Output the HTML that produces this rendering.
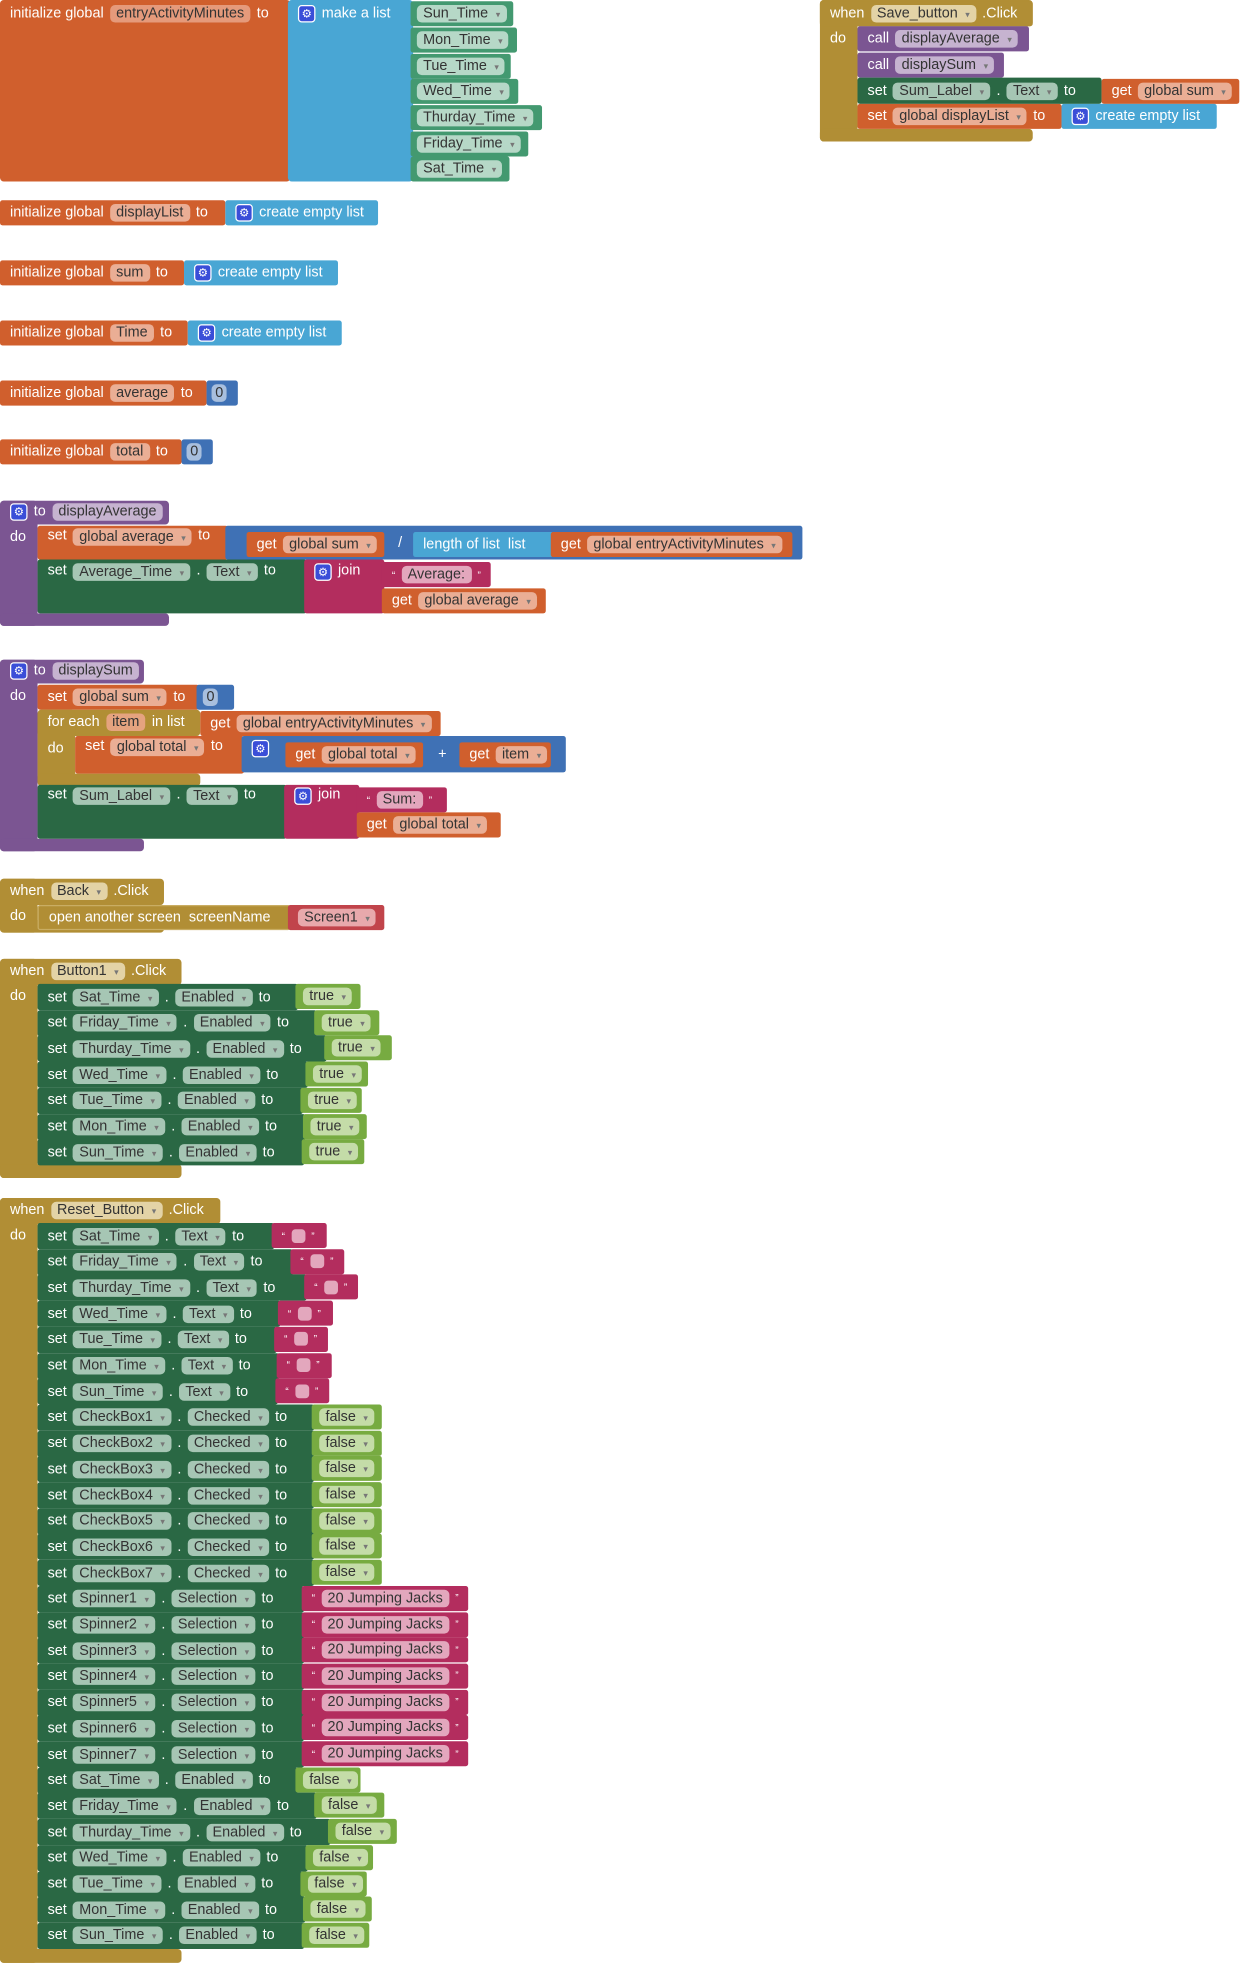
<!DOCTYPE html>
<html><head><meta charset="utf-8"><style>
html,body{margin:0;padding:0;background:#fff;width:1243px;height:1967px;overflow:hidden}
#w{position:absolute;left:0;top:0;width:993px;height:1572px;transform:scale(1.2518);transform-origin:0 0}
.b{position:absolute;height:20px;display:flex;align-items:center;padding-left:8px;gap:5px;color:#fff;font:11.5px "Liberation Sans",sans-serif;white-space:nowrap;box-sizing:border-box;border-radius:2px}
.a{position:absolute;box-sizing:border-box;border-radius:3px}
.p{background:rgba(255,255,255,.55);color:#333;border-radius:4px;padding:0 5px;height:14px;line-height:14px;font-size:11.5px}
.o{background:#d05f2d}.o .p{background:#eaae95}
.bl{background:#49a6d4}.m{background:#3f71b5}
.g{background:#2a6844}.g .p{background:#a6c6b4}
.cg{background:#439970}.cg .p{background:#b6d8c7}
.gd{background:#b18e35}.gd .p{background:#e3d3a6}
.pu{background:#7b5592}.pu .p{background:#c6b3d0}
.mg{background:#b32d5e}.mg .p{background:#e3a7bd}
.lg{background:#77ab41}.lg .p{background:#c4dca8}
.rd{background:#c1444b}.rd .p{background:#e8a9ac}
.ic{display:inline-block;width:12px;height:12px;background:#3a4ed8;border:1px solid #fff;border-radius:3px;color:#fff;font-size:9px;line-height:12px;text-align:center}
.v{font-size:7px;color:#777;margin-left:6px}
.sq{display:inline-block;width:11px;height:11px;background:#e3a7bd;border-radius:3px}
.q{font-size:8px}
</style></head><body><div id="w">

<!-- entryActivityMinutes -->
<div class="a o" style="left:0;top:0;width:232px;height:145px"></div>
<div class="b" style="left:0;top:1px;width:232px">initialize global <span class="p" style="background:#e59a7b">entryActivityMinutes</span> to</div>
<div class="a bl" style="left:230px;top:0;width:100px;height:145px"></div>
<div class="b" style="left:230px;top:1px"><span class="ic">⚙</span> make a list</div>
<div class="b cg" style="left:328px;top:1px;width:82px;padding-left:5px"><span class="p">Sun_Time<span class="v">▾</span></span></div>
<div class="b cg" style="left:328px;top:22px;width:85px;padding-left:5px"><span class="p">Mon_Time<span class="v">▾</span></span></div>
<div class="b cg" style="left:328px;top:43px;width:80px;padding-left:5px"><span class="p">Tue_Time<span class="v">▾</span></span></div>
<div class="b cg" style="left:328px;top:63px;width:86px;padding-left:5px"><span class="p">Wed_Time<span class="v">▾</span></span></div>
<div class="b cg" style="left:328px;top:84px;width:105px;padding-left:5px"><span class="p">Thurday_Time<span class="v">▾</span></span></div>
<div class="b cg" style="left:328px;top:105px;width:94px;padding-left:5px"><span class="p">Friday_Time<span class="v">▾</span></span></div>
<div class="b cg" style="left:328px;top:125px;width:79px;padding-left:5px"><span class="p">Sat_Time<span class="v">▾</span></span></div>

<!-- Save_button -->
<div class="a gd" style="left:655px;top:0;width:170px;height:21px"></div>
<div class="a gd" style="left:655px;top:0;width:30px;height:113px"></div>
<div class="a gd" style="left:655px;top:103px;width:170px;height:10px"></div>
<div class="b gd" style="left:655px;top:1px;width:170px">when <span class="p">Save_button<span class="v">▾</span></span> .Click</div>
<div class="b" style="left:655px;top:21px">do</div>
<div class="b pu" style="left:685px;top:21px;width:137px">call <span class="p">displayAverage<span class="v">▾</span></span></div>
<div class="b pu" style="left:685px;top:42px;width:117px">call <span class="p">displaySum<span class="v">▾</span></span></div>
<div class="b g" style="left:685px;top:62px;width:195px;height:21px">set <span class="p">Sum_Label<span class="v">▾</span></span> . <span class="p">Text<span class="v">▾</span></span> to</div>
<div class="b o" style="left:880px;top:63px;width:110px">get <span class="p">global sum<span class="v">▾</span></span></div>
<div class="b o" style="left:685px;top:83px;width:163px">set <span class="p">global displayList<span class="v">▾</span></span> to</div>
<div class="b bl" style="left:848px;top:83px;width:124px"><span class="ic">⚙</span> create empty list</div>

<!-- inits -->
<div class="b o" style="left:0;top:160px;width:180px">initialize global <span class="p">displayList</span> to</div>
<div class="b bl" style="left:180px;top:160px;width:122px"><span class="ic">⚙</span> create empty list</div>
<div class="b o" style="left:0;top:208px;width:147px">initialize global <span class="p">sum</span> to</div>
<div class="b bl" style="left:147px;top:208px;width:123px"><span class="ic">⚙</span> create empty list</div>
<div class="b o" style="left:0;top:256px;width:150px">initialize global <span class="p">Time</span> to</div>
<div class="b bl" style="left:150px;top:256px;width:123px"><span class="ic">⚙</span> create empty list</div>
<div class="b o" style="left:0;top:304px;width:165px">initialize global <span class="p">average</span> to</div>
<div class="b m" style="left:165px;top:304px;width:25px;padding-left:4px"><span class="p" style="padding:0 3px">0</span></div>
<div class="b o" style="left:0;top:351px;width:145px">initialize global <span class="p">total</span> to</div>
<div class="b m" style="left:145px;top:351px;width:25px;padding-left:4px"><span class="p" style="padding:0 3px">0</span></div>

<!-- displayAverage -->
<div class="a pu" style="left:0;top:400px;width:135px;height:19px"></div>
<div class="a pu" style="left:0;top:400px;width:30px;height:100px"></div>
<div class="a pu" style="left:0;top:490px;width:135px;height:10px"></div>
<div class="b" style="left:0;top:399px"><span class="ic">⚙</span> to <span class="p" style="background:#c6b3d0">displayAverage</span></div>
<div class="b" style="left:0;top:419px">do</div>
<div class="b o" style="left:30px;top:420px;width:152px;height:27px;align-items:flex-start;padding-top:2px">set <span class="p">global average<span class="v">▾</span></span> to</div>
<div class="b m" style="left:180px;top:420px;width:461px;height:27px"></div>
<div class="b o" style="left:197px;top:425px;width:110px">get <span class="p">global sum<span class="v">▾</span></span></div>
<div class="b" style="left:310px;top:424px">/</div>
<div class="b bl" style="left:330px;top:425px;width:112px">length of list &nbsp;list</div>
<div class="b o" style="left:440px;top:425px;width:193px">get <span class="p">global entryActivityMinutes<span class="v">▾</span></span></div>
<div class="b g" style="left:30px;top:447px;width:215px;height:43px;align-items:flex-start;padding-top:3px">set <span class="p">Average_Time<span class="v">▾</span></span> . <span class="p">Text<span class="v">▾</span></span> to</div>
<div class="b mg" style="left:243px;top:447px;width:64px;height:43px;align-items:flex-start;padding-top:3px"><span class="ic">⚙</span> join</div>
<div class="b mg" style="left:305px;top:449px;width:87px"><span class="q">“</span><span class="p">Average:</span><span class="q">”</span></div>
<div class="b o" style="left:305px;top:470px;width:131px">get <span class="p">global average<span class="v">▾</span></span></div>

<!-- displaySum -->
<div class="a pu" style="left:0;top:527px;width:115px;height:19px"></div>
<div class="a pu" style="left:0;top:527px;width:30px;height:153px"></div>
<div class="a pu" style="left:0;top:670px;width:115px;height:10px"></div>
<div class="b" style="left:0;top:526px"><span class="ic">⚙</span> to <span class="p" style="background:#c6b3d0">displaySum</span></div>
<div class="b" style="left:0;top:546px">do</div>
<div class="b o" style="left:30px;top:547px;width:129px">set <span class="p">global sum<span class="v">▾</span></span> to</div>
<div class="b m" style="left:157px;top:547px;width:30px;padding-left:5px"><span class="p" style="padding:0 3px">0</span></div>
<div class="a gd" style="left:30px;top:567px;width:130px;height:21px"></div>
<div class="a gd" style="left:30px;top:567px;width:30px;height:60px"></div>
<div class="a gd" style="left:30px;top:618px;width:130px;height:10px"></div>
<div class="b" style="left:30px;top:567px">for each <span class="p" style="background:#e5a37f">item</span> in list</div>
<div class="b o" style="left:160px;top:568px;width:192px">get <span class="p">global entryActivityMinutes<span class="v">▾</span></span></div>
<div class="b" style="left:30px;top:588px">do</div>
<div class="b o" style="left:60px;top:588px;width:135px;height:30px;align-items:flex-start;padding-top:2px">set <span class="p">global total<span class="v">▾</span></span> to</div>
<div class="b m" style="left:193px;top:588px;width:259px;height:29px;align-items:flex-start;padding-top:3px"><span class="ic">⚙</span></div>
<div class="b o" style="left:228px;top:593px;width:110px">get <span class="p">global total<span class="v">▾</span></span></div>
<div class="b" style="left:342px;top:593px">+</div>
<div class="b o" style="left:367px;top:593px;width:73px">get <span class="p">item<span class="v">▾</span></span></div>
<div class="b g" style="left:30px;top:627px;width:199px;height:43px;align-items:flex-start;padding-top:2px">set <span class="p">Sum_Label<span class="v">▾</span></span> . <span class="p">Text<span class="v">▾</span></span> to</div>
<div class="b mg" style="left:227px;top:627px;width:60px;height:43px;align-items:flex-start;padding-top:2px"><span class="ic">⚙</span> join</div>
<div class="b mg" style="left:285px;top:629px;width:72px"><span class="q">“</span><span class="p">Sum:</span><span class="q">”</span></div>
<div class="b o" style="left:285px;top:649px;width:115px">get <span class="p">global total<span class="v">▾</span></span></div>

<!-- Back -->
<div class="a gd" style="left:0;top:702px;width:131px;height:21px"></div>
<div class="a gd" style="left:0;top:702px;width:30px;height:43px"></div>
<div class="a gd" style="left:0;top:735px;width:131px;height:10px"></div>
<div class="b" style="left:0;top:702px">when <span class="p" style="background:#e3d3a6">Back<span class="v">▾</span></span> .Click</div>
<div class="b" style="left:0;top:722px">do</div>
<div class="b gd" style="left:30px;top:723px;width:202px;border:1px solid #c9ad63">open another screen &nbsp;screenName</div>
<div class="b rd" style="left:230px;top:723px;width:77px"><span class="p">Screen1<span class="v">▾</span></span></div>

<!-- Button1 -->
<div class="a gd" style="left:0;top:766px;width:145px;height:21px"></div>
<div class="a gd" style="left:0;top:766px;width:30px;height:175px"></div>
<div class="a gd" style="left:0;top:930px;width:145px;height:11px"></div>
<div class="b" style="left:0;top:766px">when <span class="p" style="background:#e3d3a6">Button1<span class="v">▾</span></span> .Click</div>
<div class="b" style="left:0;top:786px">do</div>

<div class="b g" style="left:30px;top:786px;width:208px;height:21px">set <span class="p">Sat_Time<span class="v">▾</span></span> . <span class="p">Enabled<span class="v">▾</span></span> to</div><div class="b lg" style="left:236px;top:786px;width:52px;padding-left:6px"><span class="p">true<span class="v">▾</span></span></div>
<div class="b g" style="left:30px;top:806.7px;width:223px;height:21px">set <span class="p">Friday_Time<span class="v">▾</span></span> . <span class="p">Enabled<span class="v">▾</span></span> to</div><div class="b lg" style="left:251px;top:806.7px;width:52px;padding-left:6px"><span class="p">true<span class="v">▾</span></span></div>
<div class="b g" style="left:30px;top:827.4px;width:231px;height:21px">set <span class="p">Thurday_Time<span class="v">▾</span></span> . <span class="p">Enabled<span class="v">▾</span></span> to</div><div class="b lg" style="left:259px;top:827.4px;width:54px;padding-left:6px"><span class="p">true<span class="v">▾</span></span></div>
<div class="b g" style="left:30px;top:848.1px;width:216px;height:21px">set <span class="p">Wed_Time<span class="v">▾</span></span> . <span class="p">Enabled<span class="v">▾</span></span> to</div><div class="b lg" style="left:244px;top:848.1px;width:50px;padding-left:6px"><span class="p">true<span class="v">▾</span></span></div>
<div class="b g" style="left:30px;top:868.8px;width:212px;height:21px">set <span class="p">Tue_Time<span class="v">▾</span></span> . <span class="p">Enabled<span class="v">▾</span></span> to</div><div class="b lg" style="left:240px;top:868.8px;width:49px;padding-left:6px"><span class="p">true<span class="v">▾</span></span></div>
<div class="b g" style="left:30px;top:889.5px;width:214px;height:21px">set <span class="p">Mon_Time<span class="v">▾</span></span> . <span class="p">Enabled<span class="v">▾</span></span> to</div><div class="b lg" style="left:242px;top:889.5px;width:51px;padding-left:6px"><span class="p">true<span class="v">▾</span></span></div>
<div class="b g" style="left:30px;top:910.2px;width:213px;height:21px">set <span class="p">Sun_Time<span class="v">▾</span></span> . <span class="p">Enabled<span class="v">▾</span></span> to</div><div class="b lg" style="left:241px;top:910.2px;width:50px;padding-left:6px"><span class="p">true<span class="v">▾</span></span></div>

<!-- Reset_Button -->
<div class="a gd" style="left:0;top:957px;width:176px;height:21px"></div>
<div class="a gd" style="left:0;top:957px;width:30px;height:611px"></div>
<div class="a gd" style="left:0;top:1557px;width:145px;height:11px"></div>
<div class="b" style="left:0;top:957px">when <span class="p" style="background:#e3d3a6">Reset_Button<span class="v">▾</span></span> .Click</div>
<div class="b" style="left:0;top:977px">do</div>

<div class="b g" style="left:30px;top:977px;width:189px;height:21px">set <span class="p">Sat_Time<span class="v">▾</span></span> . <span class="p">Text<span class="v">▾</span></span> to</div><div class="b mg" style="left:217px;top:977px;width:44px"><span class="q">“</span><span class="sq"></span><span class="q">”</span></div>
<div class="b g" style="left:30px;top:997.7px;width:204px;height:21px">set <span class="p">Friday_Time<span class="v">▾</span></span> . <span class="p">Text<span class="v">▾</span></span> to</div><div class="b mg" style="left:232px;top:997.7px;width:43px"><span class="q">“</span><span class="sq"></span><span class="q">”</span></div>
<div class="b g" style="left:30px;top:1018.4px;width:215px;height:21px">set <span class="p">Thurday_Time<span class="v">▾</span></span> . <span class="p">Text<span class="v">▾</span></span> to</div><div class="b mg" style="left:243px;top:1018.4px;width:43px"><span class="q">“</span><span class="sq"></span><span class="q">”</span></div>
<div class="b g" style="left:30px;top:1039.1px;width:194px;height:21px">set <span class="p">Wed_Time<span class="v">▾</span></span> . <span class="p">Text<span class="v">▾</span></span> to</div><div class="b mg" style="left:222px;top:1039.1px;width:44px"><span class="q">“</span><span class="sq"></span><span class="q">”</span></div>
<div class="b g" style="left:30px;top:1059.8px;width:191px;height:21px">set <span class="p">Tue_Time<span class="v">▾</span></span> . <span class="p">Text<span class="v">▾</span></span> to</div><div class="b mg" style="left:219px;top:1059.8px;width:43px"><span class="q">“</span><span class="sq"></span><span class="q">”</span></div>
<div class="b g" style="left:30px;top:1080.5px;width:193px;height:21px">set <span class="p">Mon_Time<span class="v">▾</span></span> . <span class="p">Text<span class="v">▾</span></span> to</div><div class="b mg" style="left:221px;top:1080.5px;width:44px"><span class="q">“</span><span class="sq"></span><span class="q">”</span></div>
<div class="b g" style="left:30px;top:1101.2px;width:192px;height:21px">set <span class="p">Sun_Time<span class="v">▾</span></span> . <span class="p">Text<span class="v">▾</span></span> to</div><div class="b mg" style="left:220px;top:1101.2px;width:43px"><span class="q">“</span><span class="sq"></span><span class="q">”</span></div>

<div class="b g" style="left:30px;top:1121.9px;width:221px;height:21px">set <span class="p">CheckBox1<span class="v">▾</span></span> . <span class="p">Checked<span class="v">▾</span></span> to</div><div class="b lg" style="left:249px;top:1121.9px;width:56px;padding-left:6px"><span class="p">false<span class="v">▾</span></span></div>
<div class="b g" style="left:30px;top:1142.6px;width:221px;height:21px">set <span class="p">CheckBox2<span class="v">▾</span></span> . <span class="p">Checked<span class="v">▾</span></span> to</div><div class="b lg" style="left:249px;top:1142.6px;width:56px;padding-left:6px"><span class="p">false<span class="v">▾</span></span></div>
<div class="b g" style="left:30px;top:1163.3px;width:221px;height:21px">set <span class="p">CheckBox3<span class="v">▾</span></span> . <span class="p">Checked<span class="v">▾</span></span> to</div><div class="b lg" style="left:249px;top:1163.3px;width:56px;padding-left:6px"><span class="p">false<span class="v">▾</span></span></div>
<div class="b g" style="left:30px;top:1184px;width:221px;height:21px">set <span class="p">CheckBox4<span class="v">▾</span></span> . <span class="p">Checked<span class="v">▾</span></span> to</div><div class="b lg" style="left:249px;top:1184px;width:56px;padding-left:6px"><span class="p">false<span class="v">▾</span></span></div>
<div class="b g" style="left:30px;top:1204.7px;width:221px;height:21px">set <span class="p">CheckBox5<span class="v">▾</span></span> . <span class="p">Checked<span class="v">▾</span></span> to</div><div class="b lg" style="left:249px;top:1204.7px;width:56px;padding-left:6px"><span class="p">false<span class="v">▾</span></span></div>
<div class="b g" style="left:30px;top:1225.4px;width:221px;height:21px">set <span class="p">CheckBox6<span class="v">▾</span></span> . <span class="p">Checked<span class="v">▾</span></span> to</div><div class="b lg" style="left:249px;top:1225.4px;width:56px;padding-left:6px"><span class="p">false<span class="v">▾</span></span></div>
<div class="b g" style="left:30px;top:1246.1px;width:221px;height:21px">set <span class="p">CheckBox7<span class="v">▾</span></span> . <span class="p">Checked<span class="v">▾</span></span> to</div><div class="b lg" style="left:249px;top:1246.1px;width:56px;padding-left:6px"><span class="p">false<span class="v">▾</span></span></div>

<div class="b g" style="left:30px;top:1266.8px;width:213px;height:21px">set <span class="p">Spinner1<span class="v">▾</span></span> . <span class="p">Selection<span class="v">▾</span></span> to</div><div class="b mg" style="left:241px;top:1266.8px;width:133px"><span class="q">“</span><span class="p">20 Jumping Jacks</span><span class="q">”</span></div>
<div class="b g" style="left:30px;top:1287.5px;width:213px;height:21px">set <span class="p">Spinner2<span class="v">▾</span></span> . <span class="p">Selection<span class="v">▾</span></span> to</div><div class="b mg" style="left:241px;top:1287.5px;width:133px"><span class="q">“</span><span class="p">20 Jumping Jacks</span><span class="q">”</span></div>
<div class="b g" style="left:30px;top:1308.2px;width:213px;height:21px">set <span class="p">Spinner3<span class="v">▾</span></span> . <span class="p">Selection<span class="v">▾</span></span> to</div><div class="b mg" style="left:241px;top:1308.2px;width:133px"><span class="q">“</span><span class="p">20 Jumping Jacks</span><span class="q">”</span></div>
<div class="b g" style="left:30px;top:1328.9px;width:213px;height:21px">set <span class="p">Spinner4<span class="v">▾</span></span> . <span class="p">Selection<span class="v">▾</span></span> to</div><div class="b mg" style="left:241px;top:1328.9px;width:133px"><span class="q">“</span><span class="p">20 Jumping Jacks</span><span class="q">”</span></div>
<div class="b g" style="left:30px;top:1349.6px;width:213px;height:21px">set <span class="p">Spinner5<span class="v">▾</span></span> . <span class="p">Selection<span class="v">▾</span></span> to</div><div class="b mg" style="left:241px;top:1349.6px;width:133px"><span class="q">“</span><span class="p">20 Jumping Jacks</span><span class="q">”</span></div>
<div class="b g" style="left:30px;top:1370.3px;width:213px;height:21px">set <span class="p">Spinner6<span class="v">▾</span></span> . <span class="p">Selection<span class="v">▾</span></span> to</div><div class="b mg" style="left:241px;top:1370.3px;width:133px"><span class="q">“</span><span class="p">20 Jumping Jacks</span><span class="q">”</span></div>
<div class="b g" style="left:30px;top:1391px;width:213px;height:21px">set <span class="p">Spinner7<span class="v">▾</span></span> . <span class="p">Selection<span class="v">▾</span></span> to</div><div class="b mg" style="left:241px;top:1391px;width:133px"><span class="q">“</span><span class="p">20 Jumping Jacks</span><span class="q">”</span></div>

<div class="b g" style="left:30px;top:1411.7px;width:208px;height:21px">set <span class="p">Sat_Time<span class="v">▾</span></span> . <span class="p">Enabled<span class="v">▾</span></span> to</div><div class="b lg" style="left:236px;top:1411.7px;width:52px;padding-left:6px"><span class="p">false<span class="v">▾</span></span></div>
<div class="b g" style="left:30px;top:1432.4px;width:223px;height:21px">set <span class="p">Friday_Time<span class="v">▾</span></span> . <span class="p">Enabled<span class="v">▾</span></span> to</div><div class="b lg" style="left:251px;top:1432.4px;width:56px;padding-left:6px"><span class="p">false<span class="v">▾</span></span></div>
<div class="b g" style="left:30px;top:1453.1px;width:234px;height:21px">set <span class="p">Thurday_Time<span class="v">▾</span></span> . <span class="p">Enabled<span class="v">▾</span></span> to</div><div class="b lg" style="left:262px;top:1453.1px;width:55px;padding-left:6px"><span class="p">false<span class="v">▾</span></span></div>
<div class="b g" style="left:30px;top:1473.8px;width:216px;height:21px">set <span class="p">Wed_Time<span class="v">▾</span></span> . <span class="p">Enabled<span class="v">▾</span></span> to</div><div class="b lg" style="left:244px;top:1473.8px;width:54px;padding-left:6px"><span class="p">false<span class="v">▾</span></span></div>
<div class="b g" style="left:30px;top:1494.5px;width:212px;height:21px">set <span class="p">Tue_Time<span class="v">▾</span></span> . <span class="p">Enabled<span class="v">▾</span></span> to</div><div class="b lg" style="left:240px;top:1494.5px;width:53px;padding-left:6px"><span class="p">false<span class="v">▾</span></span></div>
<div class="b g" style="left:30px;top:1515.2px;width:214px;height:21px">set <span class="p">Mon_Time<span class="v">▾</span></span> . <span class="p">Enabled<span class="v">▾</span></span> to</div><div class="b lg" style="left:242px;top:1515.2px;width:55px;padding-left:6px"><span class="p">false<span class="v">▾</span></span></div>
<div class="b g" style="left:30px;top:1535.9px;width:213px;height:21px">set <span class="p">Sun_Time<span class="v">▾</span></span> . <span class="p">Enabled<span class="v">▾</span></span> to</div><div class="b lg" style="left:241px;top:1535.9px;width:54px;padding-left:6px"><span class="p">false<span class="v">▾</span></span></div>

</div></body></html>
